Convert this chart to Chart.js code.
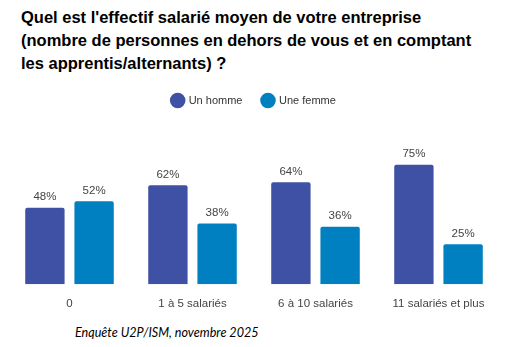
<!DOCTYPE html>
<html>
<head>
<meta charset="utf-8">
<script src="https://cdn.jsdelivr.net/npm/chart.js@4"></script>
<style>
  html, body { margin: 0; padding: 0; background: #fff; }
  #wrap { position: relative; width: 507px; height: 347px; overflow: hidden; }
  #titre {
    position: absolute; left: 21px; top: 6px;
    font: bold 16.5px "Liberation Sans", Arial, sans-serif;
    line-height: 23px; color: #000;
  }
  #source {
    position: absolute; left: 75px; top: 325px;
    font: italic 12.6px Lato, "Open Sans", sans-serif; color: #000;
  }
  #zone { position: absolute; left: 0; top: 75px; width: 507px; height: 241px; }
</style>
</head>
<body>
<div id="wrap">
  <div id="titre">Quel est l'effectif salarié moyen de votre entreprise<br>(nombre de personnes en dehors de vous et en comptant<br>les apprentis/alternants) ?</div>
  <div id="zone"><canvas id="graph"></canvas></div>
  <div id="source">Enquête U2P/ISM, novembre 2025</div>
</div>
<script>
// Effectif salarié par sexe du dirigeant (%)
const categories = ['0', '1 à 5 salariés', '6 à 10 salariés', '11 salariés et plus'];
const hommes = [48, 62, 64, 75];
const femmes = [52, 38, 36, 25];

// Affiche le pourcentage au-dessus de chaque barre
const etiquettes = {
  id: 'etiquettes',
  afterDatasetsDraw(chart) {
    const ctx = chart.ctx;
    ctx.save();
    ctx.font = '11.5px "Liberation Sans", Arial, sans-serif';
    ctx.fillStyle = '#444';
    ctx.textAlign = 'center';
    ctx.textBaseline = 'bottom';
    chart.data.datasets.forEach((ds, i) => {
      chart.getDatasetMeta(i).data.forEach((bar, j) => {
        ctx.fillText(ds.data[j] + '%', bar.x, bar.y - 5);
      });
    });
    ctx.restore();
  }
};

new Chart(document.getElementById('graph'), {
  type: 'bar',
  data: {
    labels: categories,
    datasets: [
      { label: 'Un homme', data: hommes, backgroundColor: '#3F51A5', borderRadius: 2, borderSkipped: 'bottom' },
      { label: 'Une femme', data: femmes, backgroundColor: '#0080C0', borderRadius: 2, borderSkipped: 'bottom' }
    ]
  },
  options: {
    responsive: true,
    maintainAspectRatio: false,
    animation: false,
    layout: { padding: { left: 8, right: 7, top: 0, bottom: 0 } },
    datasets: { bar: { categoryPercentage: 0.8, barPercentage: 0.8 } },
    plugins: {
      tooltip: { enabled: false },
      legend: {
        position: 'top',
        labels: {
          usePointStyle: true,
          pointStyle: 'circle',
          boxWidth: 11,
          boxHeight: 11,
          padding: 20,
          color: '#333',
          font: { family: '"Liberation Sans", Arial, sans-serif', size: 11 }
        }
      }
    },
    scales: {
      x: {
        grid: { display: false },
        border: { display: false },
        ticks: { color: '#444', padding: 5, font: { family: '"Liberation Sans", Arial, sans-serif', size: 11.5 } }
      },
      y: {
        display: false,
        min: 0,
        max: 105.5
      }
    }
  },
  plugins: [etiquettes]
});
</script>
</body>
</html>
